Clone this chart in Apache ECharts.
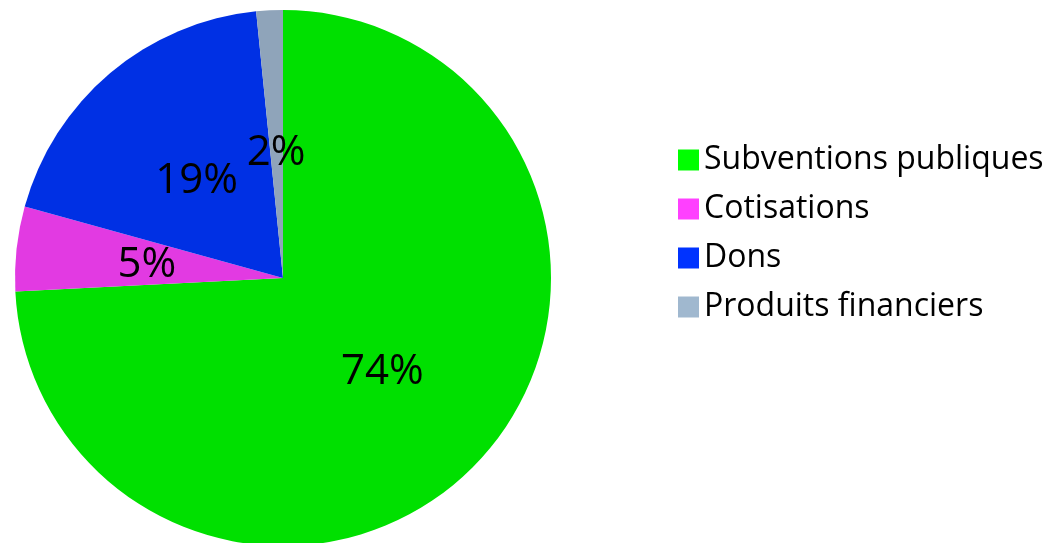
<!DOCTYPE html>
<html>
<head>
<meta charset="utf-8">
<script src="https://cdn.jsdelivr.net/npm/echarts@6/dist/echarts.min.js"></script>
<style>
html,body{margin:0;padding:0;background:#fff;}
#c{width:1049px;height:543px;}
</style>
</head>
<body>
<div id="c"></div>
<script>
const categories = ['Subventions publiques', 'Cotisations', 'Dons', 'Produits financiers'];
const values = [74.2, 5.1, 19.1, 1.6];
const sliceColors = ['#00E000', '#E23AE2', '#0030E4', '#8FA4BA'];
const legendColors = ['#00FF00', '#FF40FF', '#0033FF', '#A0B8CF'];
const labelShifts = [[0, 0], [0, 2], [2, 8], [0, 12]];

const chart = echarts.init(document.getElementById('c'), null, {renderer: 'canvas'});
chart.setOption({
  backgroundColor: '#ffffff',
  animation: false,
  legend: {
    orient: 'vertical',
    left: 673,
    top: 139,
    itemWidth: 21,
    itemHeight: 21,
    itemGap: 17,
    icon: 'rect',
    textStyle: {
      fontFamily: 'Open Sans',
      fontSize: 32,
      lineHeight: 32,
      color: '#000',
      padding: [0, 0, 0, 0]
    },
    data: categories.map((n, i) => ({name: n, itemStyle: {color: legendColors[i]}}))
  },
  series: [{
    type: 'pie',
    center: [283, 278],
    radius: [0, 268],
    startAngle: 90,
    clockwise: true,
    avoidLabelOverlap: false,
    label: {
      show: true,
      position: 'inside',
      formatter: p => Math.round(p.value) + '%',
      fontFamily: 'Open Sans',
      fontSize: 42,
      color: '#000'
    },
    labelLine: {show: false},
    itemStyle: {borderWidth: 0},
    emphasis: {disabled: true},
    data: categories.map((n, i) => ({
      name: n,
      value: values[i],
      itemStyle: {color: sliceColors[i]},
      label: {offset: labelShifts[i]}
    }))
  }]
});
</script>
</body>
</html>
